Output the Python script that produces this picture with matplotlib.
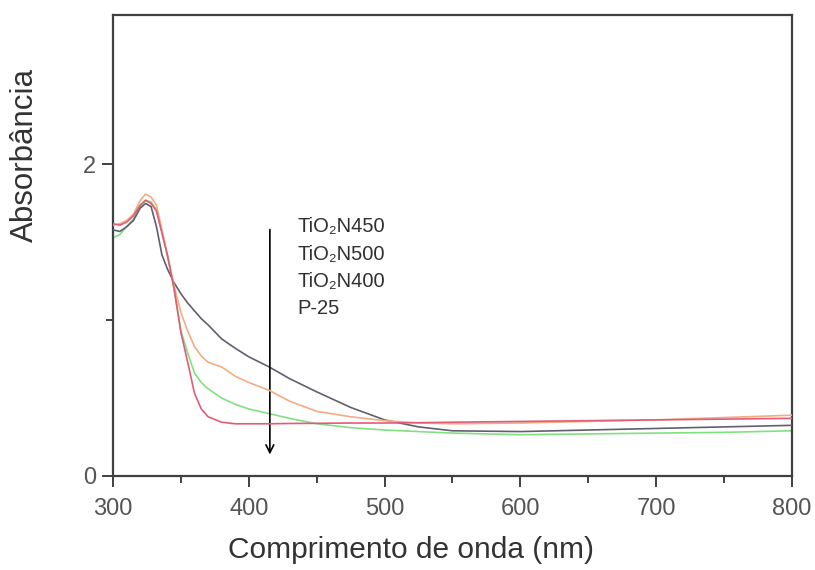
import matplotlib
matplotlib.use("Agg")
import matplotlib.pyplot as plt
from matplotlib.ticker import MultipleLocator

plt.rcParams['font.family'] = ['Liberation Sans', 'DejaVu Sans']

# ── data ────────────────────────────────────────────────────────────────
wavelength = [300, 305, 310, 315, 320, 324, 328, 332, 336, 340, 345, 350, 355,
              360, 365, 370, 380, 390, 400, 415, 430, 450, 475, 500, 525, 550,
              600, 650, 700, 750, 800]

abs_n450 = [1.58, 1.57, 1.60, 1.64, 1.72, 1.75, 1.73, 1.60, 1.42, 1.33, 1.24,
            1.17, 1.11, 1.06, 1.01, 0.97, 0.88, 0.82, 0.765, 0.70, 0.625, 0.54,
            0.44, 0.36, 0.315, 0.29, 0.285, 0.295, 0.305, 0.315, 0.325]
abs_n500 = [1.61, 1.62, 1.64, 1.68, 1.77, 1.81, 1.79, 1.74, 1.58, 1.42, 1.22,
            1.05, 0.93, 0.83, 0.77, 0.73, 0.70, 0.64, 0.60, 0.55, 0.48, 0.415,
            0.38, 0.355, 0.34, 0.335, 0.34, 0.35, 0.36, 0.375, 0.39]
abs_n400 = [1.53, 1.55, 1.60, 1.65, 1.73, 1.77, 1.76, 1.71, 1.57, 1.42, 1.20,
            0.93, 0.79, 0.66, 0.60, 0.56, 0.50, 0.46, 0.43, 0.40, 0.37, 0.335,
            0.31, 0.295, 0.285, 0.275, 0.265, 0.27, 0.275, 0.28, 0.29]
abs_p25 = [1.62, 1.61, 1.63, 1.67, 1.74, 1.77, 1.75, 1.70, 1.56, 1.42, 1.20,
           0.92, 0.73, 0.53, 0.43, 0.38, 0.345, 0.335, 0.335, 0.335, 0.337, 0.338,
           0.34, 0.34, 0.342, 0.345, 0.35, 0.355, 0.36, 0.365, 0.37]

labels = ["TiO\u2082N450", "TiO\u2082N500", "TiO\u2082N400", "P-25"]

# ── figure ──────────────────────────────────────────────────────────────
fig = plt.figure(figsize=(8.15, 5.7), dpi=100)
ax = fig.add_axes([0.1387, 0.165, 0.833, 0.8087])

ax.plot(wavelength, abs_n450, color="#60606e", lw=1.2, zorder=3)
ax.plot(wavelength, abs_n500, color="#f2ad80", lw=1.2, zorder=4)
ax.plot(wavelength, abs_n400, color="#82e082", lw=1.2, zorder=2)
ax.plot(wavelength, abs_p25, color="#e05c78", lw=1.2, zorder=5)

# arrow + labels
ax.annotate("", xy=(415.5, 0.12), xytext=(415.5, 1.60),
            arrowprops=dict(arrowstyle="->", color="black", lw=1.2,
                            mutation_scale=14))
for i, lab in enumerate(labels):
    ax.text(436, 1.60 - i * 0.175, lab, fontsize=14.5, color="#303030",
            ha="left", va="center")

ax.set_xlim(300, 800)
ax.set_ylim(0, 2.96)
ax.xaxis.set_major_locator(MultipleLocator(100))
ax.xaxis.set_minor_locator(MultipleLocator(50))
ax.set_yticks([0, 2])
ax.yaxis.set_minor_locator(MultipleLocator(1))

for s in ax.spines.values():
    s.set_color("#404040")
    s.set_linewidth(1.6)
ax.tick_params(which="both", direction="out", color="#404040", width=1.4,
               labelcolor="#555555", labelsize=17, top=False, right=False)
ax.tick_params(which="major", length=8, pad=8)
ax.tick_params(which="minor", length=5)
ax.tick_params(axis="y", which="major", pad=4)

ax.set_xlabel("Comprimento de onda (nm)", fontsize=21.5, color="#333333",
              va="center")
ax.xaxis.set_label_coords(0.439, -0.1605)
ax.set_ylabel("Absorbância", fontsize=22.5, color="#333333", va="center")
ax.yaxis.set_label_coords(-0.1296, 0.696)

fig.savefig("out.png", dpi=100, facecolor="white")
